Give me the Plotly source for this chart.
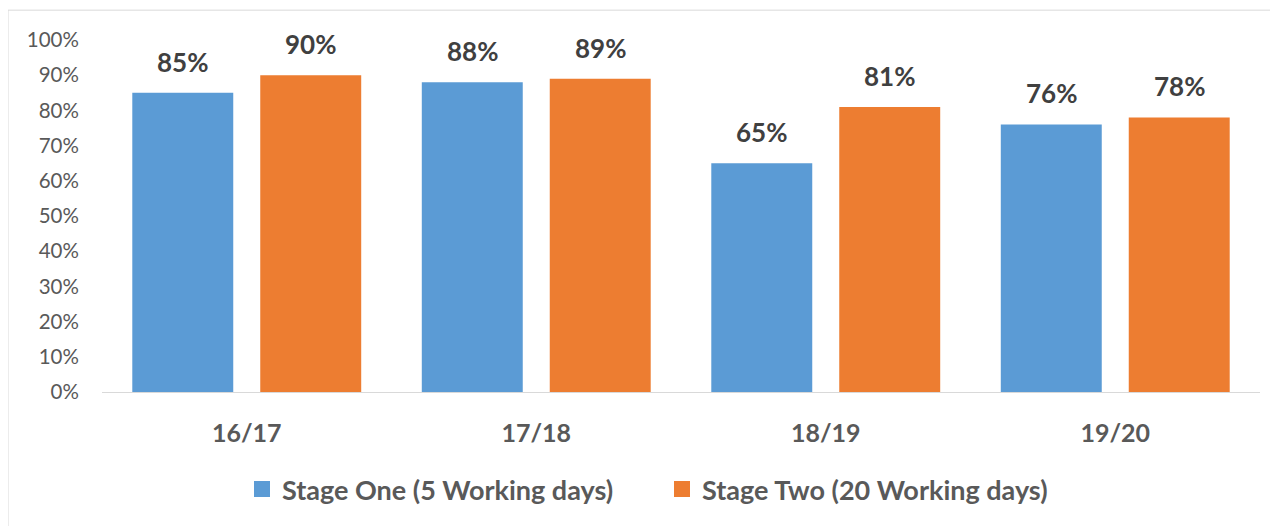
import plotly.graph_objects as go

categories = ["16/17", "17/18", "18/19", "19/20"]
stage_one = [85, 88, 65, 76]
stage_two = [90, 89, 81, 78]
series_names = ["<b>Stage One (5 Working days)</b>", "<b>Stage Two (20 Working days)</b>"]
y_ticks = list(range(0, 101, 10))
y_tick_labels = [f"{v}%" for v in y_ticks]

BLUE = "#5B9BD5"
ORANGE = "#ED7D31"
FONT = "Lato"

fig = go.Figure()
for name, vals, col in [(series_names[0], stage_one, BLUE), (series_names[1], stage_two, ORANGE)]:
    fig.add_trace(go.Bar(x=categories, y=vals, name=name, showlegend=False,
                         marker=dict(color=col, line=dict(width=0))))
# legend entries with larger square swatches
for name, col in [(series_names[0], BLUE), (series_names[1], ORANGE)]:
    fig.add_trace(go.Scatter(x=[None], y=[None], mode="markers", name=name,
                             marker=dict(symbol="square", size=17, color=col)))

# data labels
for vals, shift in [(stage_one, -64), (stage_two, 64)]:
    for c, v in zip(categories, vals):
        fig.add_annotation(x=c, y=v, text=f"<b>{v}%</b>", showarrow=False,
                           xshift=shift, yanchor="bottom", yshift=13,
                           font=dict(family=FONT, size=26, color="#404040"))

# page body has an 8px offset
OFF = 8
W, H = 1278 - OFF, 526 - OFF
ml, mr, mt, mb = 102 - OFF, 18, 40 - OFF, 132
pw, ph = W - ml - mr, H - mt - mb
fig.add_shape(type="rect", xref="paper", yref="paper",
              x0=(8 - OFF - ml) / pw, x1=(W + 5 - ml) / pw,
              y0=-(mb + 5) / ph,
              y1=(H - mb - (10 - OFF)) / ph,
              line=dict(color="#D9D9D9", width=1), layer="below")

fig.update_layout(
    width=W, height=H,
    margin=dict(l=ml, r=mr, t=mt, b=mb),
    plot_bgcolor="white", paper_bgcolor="white",
    barmode="group", bargap=0.116, bargroupgap=0.211,
    showlegend=True,
    legend=dict(orientation="h", x=(242 - OFF - ml) / pw, xanchor="left",
                y=-(492 - OFF - (H - mb)) / ph, yanchor="middle",
                font=dict(family=FONT, size=27, color="#595959"),
                entrywidth=375, entrywidthmode="pixels",
                tracegroupgap=0),
    font=dict(family=FONT),
)
fig.update_xaxes(showline=True, linecolor="#D9D9D9", linewidth=1, showgrid=False,
                 ticks="outside", ticklen=19, tickcolor="rgba(0,0,0,0)",
                 tickfont=dict(family=FONT, size=25, color="#595959"),
                 tickprefix="<b>", ticksuffix="</b>")
fig.update_yaxes(range=[0, 100], tickvals=y_ticks, ticktext=y_tick_labels,
                 showgrid=False, zeroline=False, showline=False,
                 ticks="outside", ticklen=18, tickcolor="rgba(0,0,0,0)",
                 tickfont=dict(family=FONT, size=20.5, color="#595959"))

fig.write_html("out.html")
